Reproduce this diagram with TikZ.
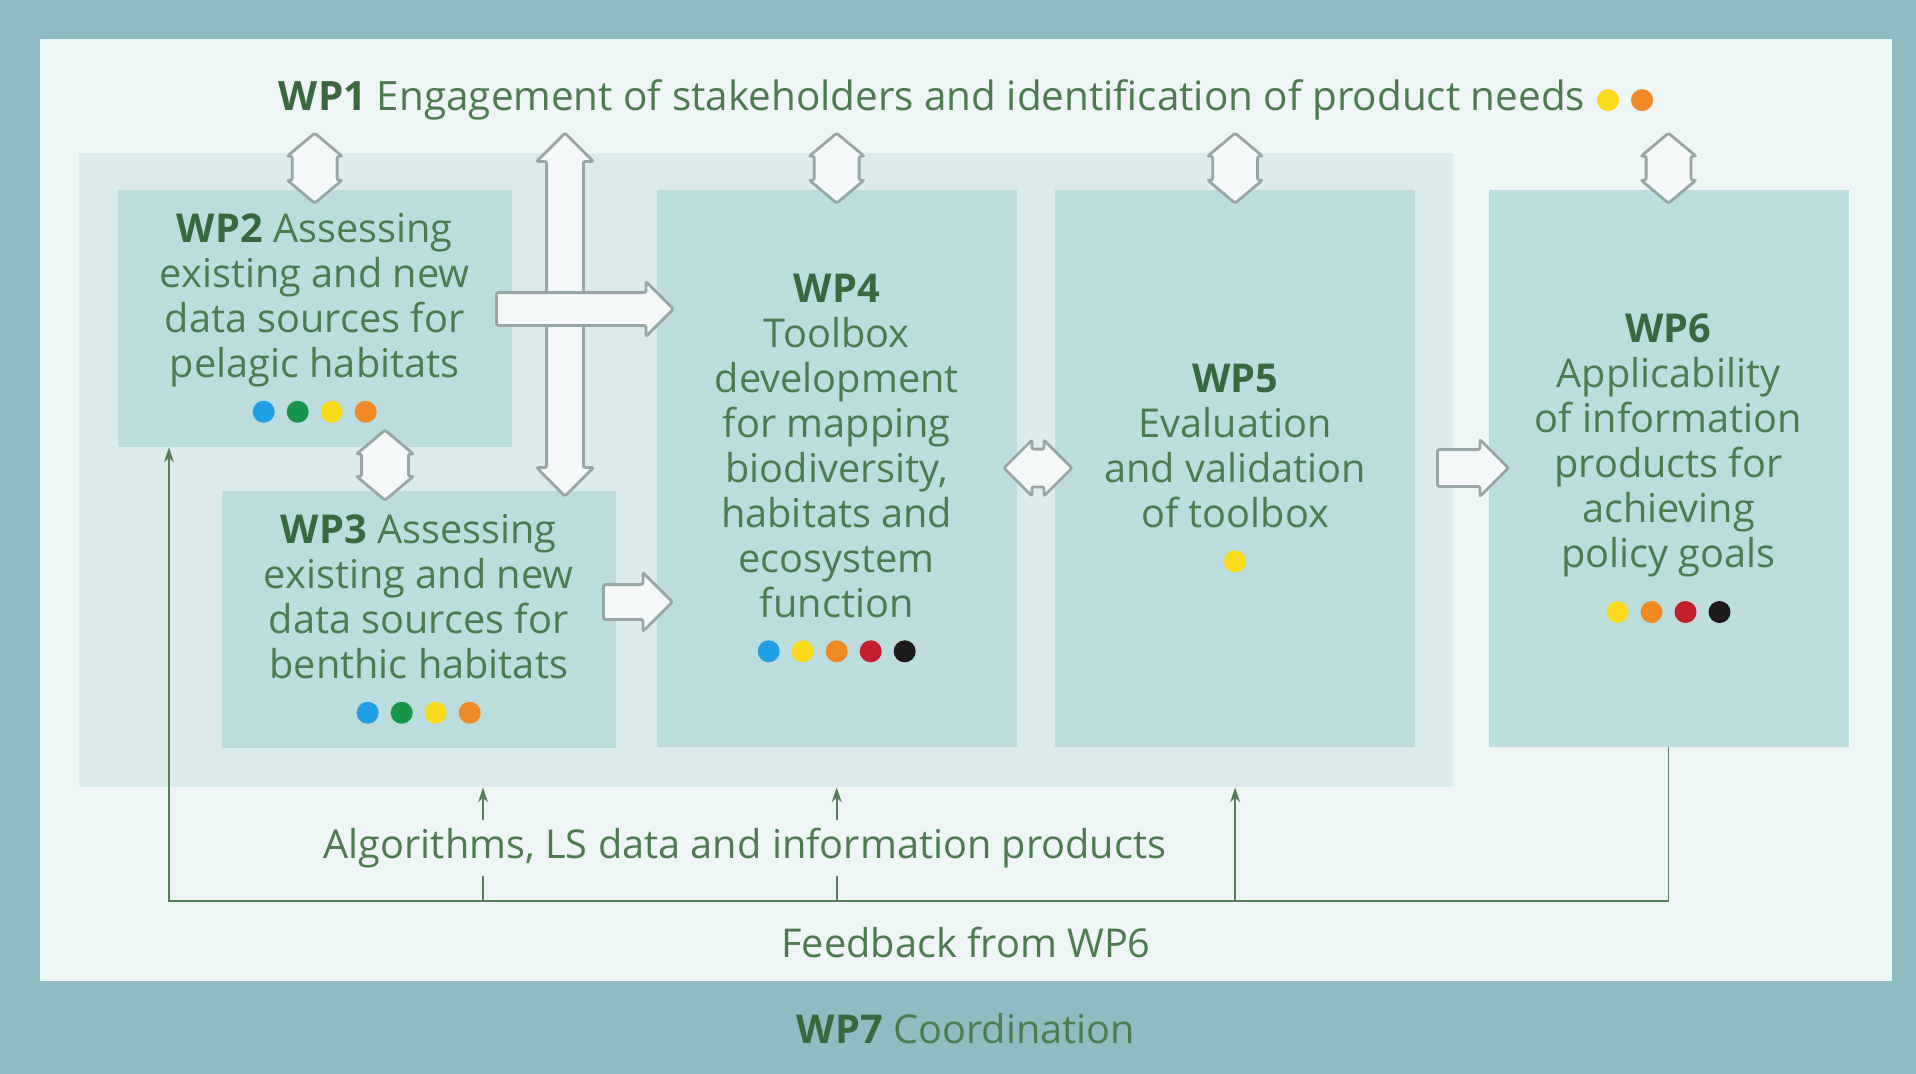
\documentclass[tikz,border=0pt]{standalone}
\usepackage{fontspec}
\setmainfont{Open Sans}
\usepackage{tikz}
\usetikzlibrary{positioning}
\usetikzlibrary{calc}
\usetikzlibrary{shapes.arrows}
\usetikzlibrary{arrows.meta}
\usepackage{xcolor}
\definecolor{frame}{HTML}{8EBCC2}
\definecolor{panel}{HTML}{EEF5F5}
\definecolor{group}{HTML}{DCEBEC}
\definecolor{wpfill}{HTML}{BDDCDE}
\definecolor{wptext}{HTML}{4C7B50}
\definecolor{wpbold}{HTML}{3A683E}
\definecolor{arrowline}{HTML}{97A6A4}
\definecolor{arrowfill}{HTML}{F4F8F8}
\definecolor{fbgreen}{HTML}{557F59}
\definecolor{dotblue}{HTML}{1FA0E4}
\definecolor{dotgreen}{HTML}{17964A}
\definecolor{dotyellow}{HTML}{F9DB1C}
\definecolor{dotorange}{HTML}{F08A26}
\definecolor{dotred}{HTML}{C41E2F}
\definecolor{dotblack}{HTML}{1C1A1A}
\newcommand{\wpfont}{\fontsize{11.3}{12.8}\selectfont}
\newcommand{\wpnum}[1]{\textbf{\color{wpbold}#1}}
\newcommand{\wpdots}[1]{\tikz[baseline={(0,-1mm)}]{\foreach \col [count=\i] in {#1} \fill[\col] (\i*3.4mm,0) circle[radius=1.1mm];}}
\tikzset{wpbox/.style={
          fill=wpfill, text=wptext, font=\wpfont, align=center, inner sep=0pt,
          minimum width=39.4mm, minimum height=25.7mm
          },
        tallbox/.style={wpbox, minimum width=36mm, minimum height=55.7mm},
        plaintext/.style={text=wptext, font=\wpfont, inner sep=0.8mm},
        % shaft width = 2 x inner ysep, head width = shaft + 2 x head extend
        blockarrow/.style={draw=arrowline, fill=arrowfill, line width=0.8pt, inner xsep=0pt, rounded corners=0.6pt, minimum width=0pt},
        vbothway/.style={blockarrow, double arrow, rotate=90, anchor=tip 2,
          minimum height=7mm, inner ysep=2.1mm, double arrow head extend=0.5mm, double arrow tip angle=100},
        oneway/.style={blockarrow, single arrow, anchor=tail,
          inner ysep=1.7mm, single arrow head extend=1mm},
        feedback/.style={draw=fbgreen, line width=0.5pt},
        feedbackarrow/.style={feedback, -{Stealth[length=1.5mm, width=1mm]}},
}
\begin{document}
\begin{tikzpicture}[x=1mm, y=-1mm]
      \useasboundingbox (0,0) rectangle (191.6,107.4);
      % FRAME AND PANELS
      \fill[frame] (0,0) rectangle (191.6,107.4);
      \fill[panel] (4.0,3.9) rectangle (189.2,98.1);
      \node[fill=group, inner sep=0pt, minimum width=137.4mm, minimum height=63.4mm, anchor=north west] (grp) at (7.8,15.2) {};

      % WORK PACKAGES
      \node[plaintext, font=\fontsize{11.5}{13}\selectfont] (wp1) at (96.6,9.95) {\wpnum{WP1} Engagement of stakeholders and identification of product needs\hspace{1.2mm}\wpdots{dotyellow,dotorange}};
      \node[wpbox, anchor=north west] (wp2) at (11.7,18.9) {\wpnum{WP2} Assessing\\existing and new\\data sources for\\pelagic habitats\\[-0.1mm]\wpdots{dotblue,dotgreen,dotyellow,dotorange}};
      \node[wpbox, anchor=north west] (wp3) at (22.1,49.0) {\wpnum{WP3} Assessing\\existing and new\\data sources for\\benthic habitats\\[-0.1mm]\wpdots{dotblue,dotgreen,dotyellow,dotorange}};
      \node[tallbox, anchor=north west] (wp4) at (65.6,18.9) {\wpnum{WP4}\\Toolbox\\development\\for mapping\\biodiversity,\\habitats and\\ecosystem\\function\\[-0.1mm]\wpdots{dotblue,dotyellow,dotorange,dotred,dotblack}};
      \node[tallbox, right=3.7mm of wp4] (wp5) {\wpnum{WP5}\\Evaluation\\and validation\\of toolbox\\[-0.1mm]\wpdots{dotyellow}};
      \node[tallbox, right=7.2mm of wp5] (wp6) {\wpnum{WP6}\\Applicability\\of information\\products for\\achieving\\policy goals\\[1mm]\wpdots{dotyellow,dotorange,dotred,dotblack}};

      % BLOCK ARROWS
      \node[vbothway] (a12) at (wp2.north |- 0,20.5) {};
      \node[vbothway] (a14) at (wp4.north |- 0,20.5) {};
      \node[vbothway] (a15) at (wp5.north |- 0,20.5) {};
      \node[vbothway] (a16) at (wp6.north |- 0,20.5) {};
      \node[vbothway, minimum height=36.3mm, inner ysep=1.7mm, double arrow head extend=1mm, double arrow tip angle=90] (a1x) at (56.5,49.8) {};
      \node[vbothway, inner ysep=2.2mm] (a23) at (38.5,50.2) {};
      \node[oneway, minimum height=17.7mm, inner ysep=1.5mm, single arrow head extend=1.1mm] (a24) at (49.5,30.9) {};
      \node[oneway, minimum height=6.9mm, inner ysep=1.6mm, single arrow head extend=1.2mm] (a34) at (60.2,60.2) {};
      \node[blockarrow, double arrow, anchor=tip 2, minimum height=6.8mm, inner ysep=1.75mm, double arrow head extend=0.9mm] (a45) at (100.2,46.8) {};
      \node[oneway, minimum height=7.1mm] (a56) at (143.6,46.8) {};

      % FEEDBACK FROM WP6
      \coordinate (fbl) at (16.9,90.1);
      \coordinate (fbm) at (48.3,90.1);
      \draw[feedbackarrow] (wp6.south) |- (fbl) -- (fbl |- wp2.south);
      \draw[feedbackarrow] (fbm) -- (fbm |- grp.south);
      \draw[feedbackarrow] (fbl -| wp4.south) -- (grp.south -| wp4.south);
      \draw[feedbackarrow] (fbl -| wp5.south) -- (grp.south -| wp5.south);
      \node[plaintext, fill=panel] (algo) at (74.5,84.8) {Algorithms, LS data and information products};
      \node[plaintext] (fb) at (96.6,94.2) {Feedback from WP6};

      % COORDINATION
      \node[plaintext] (wp7) at (96.6,102.9) {\wpnum{WP7} Coordination};
\end{tikzpicture}
\end{document}
